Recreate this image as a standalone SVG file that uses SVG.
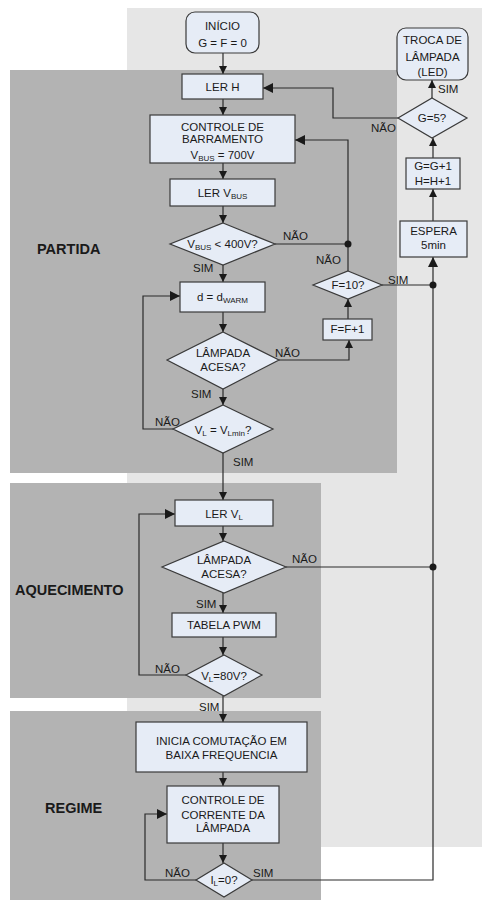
<svg xmlns="http://www.w3.org/2000/svg" width="482" height="900" viewBox="0 0 482 900">
<defs>
<marker id="ah" viewBox="0 0 10 10" refX="10" refY="5" markerWidth="9" markerHeight="8" markerUnits="userSpaceOnUse" orient="auto"><path d="M0,0 L10,5 L0,10 z" fill="#1a1a1a"/></marker>
<marker id="ahb" viewBox="0 0 10 10" refX="10" refY="5" markerWidth="12" markerHeight="10" markerUnits="userSpaceOnUse" orient="auto"><path d="M0,0 L10,5 L0,10 z" fill="#1a1a1a"/></marker>
<style>
.n{fill:#e6ecf6;stroke:#3a3a3a;stroke-width:1.2}
.t{font-family:"Liberation Sans",Arial,sans-serif;font-size:11.5px;fill:#1a1a1a;text-anchor:middle}
.l{font-family:"Liberation Sans",Arial,sans-serif;font-size:11.5px;fill:#1a1a1a}
.h{font-family:"Liberation Sans",Arial,sans-serif;font-size:14.5px;font-weight:bold;fill:#1a1a1a}
.c{fill:none;stroke:#2a2a2a;stroke-width:1.2}
.a{marker-end:url(#ah)}
.b{marker-end:url(#ahb)}
.s{font-size:8px}
</style>
</defs>
<rect width="482" height="900" fill="#ffffff"/>
<rect x="127" y="8" width="355" height="839" fill="#e6e6e6"/>
<g id="panels">
<rect x="10" y="70" width="387" height="403" fill="#b3b3b3"/>
<rect x="10" y="483" width="311" height="215" fill="#b3b3b3"/>
<rect x="10" y="711" width="311" height="189" fill="#b3b3b3"/>
<text class="h" x="37" y="254">PARTIDA</text>
<text class="h" x="15" y="595">AQUECIMENTO</text>
<text class="h" x="45" y="813">REGIME</text>
</g>
<g id="connectors">
<path class="c a" d="M223,53 V74"/>
<path class="c a" d="M223,99 V115"/>
<path class="c a" d="M223,163 V179"/>
<path class="c a" d="M223,206 V223"/>
<path class="c a" d="M223,265 V282"/>
<path class="c a" d="M223,312 V332"/>
<path class="c a" d="M223,389 V405"/>
<path class="c a" d="M223,453 V500"/>
<path class="c a" d="M223,526 V541"/>
<path class="c a" d="M223,593 V613"/>
<path class="c a" d="M223,637 V655"/>
<path class="c a" d="M223,696 V722"/>
<path class="c a" d="M223,772 V786"/>
<path class="c a" d="M223,843 V863"/>
<path class="c b" d="M275,244 H348 V140 H295"/>
<path class="c" d="M348,271 V244"/>
<path class="c a" d="M279,360 H349 V340"/>
<path class="c a" d="M348,319 V299"/>
<path class="c" d="M382,285 H433"/>
<path class="c b" d="M173,429 H143 V296 H180"/>
<path class="c b" d="M186,675 H139 V514 H175"/>
<path class="c b" d="M196,880 H145 V814 H167"/>
<path class="c" d="M286,567 H433"/>
<path class="c b" d="M252,880 H433 V257"/>
<path class="c a" d="M433,221 V189"/>
<path class="c a" d="M433,158 V138"/>
<path class="c a" d="M432,98 V80"/>
<path class="c b" d="M398,118 H333 V88 H263"/>
<circle cx="348" cy="244" r="3.5" fill="#1a1a1a"/>
<circle cx="433" cy="285" r="3.5" fill="#1a1a1a"/>
<circle cx="433" cy="567" r="3.5" fill="#1a1a1a"/>
<text class="l" x="283" y="240">NÃO</text>
<text class="l" x="316" y="264">NÃO</text>
<text class="l" x="388" y="284">SIM</text>
<text class="l" x="371" y="132">NÃO</text>
<text class="l" x="438" y="93">SIM</text>
<text class="l" x="193" y="272">SIM</text>
<text class="l" x="275" y="357">NÃO</text>
<text class="l" x="191" y="398">SIM</text>
<text class="l" x="155" y="426">NÃO</text>
<text class="l" x="233" y="466">SIM</text>
<text class="l" x="292" y="563">NÃO</text>
<text class="l" x="196" y="608">SIM</text>
<text class="l" x="155" y="673">NÃO</text>
<text class="l" x="199" y="711">SIM</text>
<text class="l" x="165" y="877">NÃO</text>
<text class="l" x="253" y="877">SIM</text>
</g>
<g id="inicio"><rect class="n" x="186" y="12" width="73" height="41" rx="9"/><text class="t" x="222.5" y="30">INÍCIO</text><text class="t" x="222.5" y="47">G = F = 0</text></g>
<g id="lerh"><rect class="n" x="182" y="74" width="81" height="25"/><text class="t" x="222.5" y="91">LER H</text></g>
<g id="controle-barramento"><rect class="n" x="150" y="115" width="145" height="48"/><text class="t" x="222.5" y="131">CONTROLE DE</text><text class="t" x="222.5" y="143">BARRAMENTO</text><text class="t" x="222.5" y="159">V<tspan class="s" dy="2">BUS</tspan><tspan dy="-2"> = 700V</tspan></text></g>
<g id="ler-vbus"><rect class="n" x="170" y="179" width="105" height="27"/><text class="t" x="222.5" y="197">LER V<tspan class="s" dy="2">BUS</tspan></text></g>
<g id="vbus-dec"><polygon class="n" points="223,223 275,244 223,265 170,244"/><text class="t" x="222.5" y="248">V<tspan class="s" dy="2">BUS</tspan><tspan dy="-2"> &lt; 400V?</tspan></text></g>
<g id="dwarm"><rect class="n" x="180" y="282" width="85" height="30"/><text class="t" x="222.5" y="301">d = d<tspan class="s" dy="2">WARM</tspan></text></g>
<g id="lampada1"><polygon class="n" points="223,332 279,360 223,389 167,360"/><text class="t" x="223" y="357">LÂMPADA</text><text class="t" x="223" y="371">ACESA?</text></g>
<g id="vlmin"><polygon class="n" points="223,405 273,429 223,453 173,429"/><text class="t" x="223" y="434">V<tspan class="s" dy="2">L</tspan><tspan dy="-2"> = V</tspan><tspan class="s" dy="2">Lmin</tspan><tspan dy="-2">?</tspan></text></g>
<g id="ff1"><rect class="n" x="323" y="319" width="49" height="21"/><text class="t" x="347.5" y="333">F=F+1</text></g>
<g id="f10"><polygon class="n" points="348,271 382,285 348,299 313,285"/><text class="t" x="348" y="289">F=10?</text></g>
<g id="espera"><rect class="n" x="400" y="221" width="67" height="36"/><text class="t" x="433.5" y="235">ESPERA</text><text class="t" x="433.5" y="249">5min</text></g>
<g id="gg1"><rect class="n" x="406" y="158" width="54" height="31"/><text class="t" x="433" y="170">G=G+1</text><text class="t" x="433" y="185">H=H+1</text></g>
<g id="g5"><polygon class="n" points="432,98 467,118 432,138 398,118"/><text class="t" x="432" y="122">G=5?</text></g>
<g id="troca"><rect class="n" x="397" y="28" width="71" height="52" rx="9"/><text class="t" x="432.5" y="44">TROCA DE</text><text class="t" x="432.5" y="61">LÂMPADA</text><text class="t" x="432.5" y="76">(LED)</text></g>
<g id="ler-vl"><rect class="n" x="175" y="500" width="98" height="26"/><text class="t" x="224" y="518">LER V<tspan class="s" dy="2">L</tspan></text></g>
<g id="lampada2"><polygon class="n" points="224,541 286,567 224,593 162,567"/><text class="t" x="224" y="564">LÂMPADA</text><text class="t" x="224" y="578">ACESA?</text></g>
<g id="tabela"><rect class="n" x="172" y="613" width="104" height="24"/><text class="t" x="224" y="629">TABELA PWM</text></g>
<g id="vl80"><polygon class="n" points="224,655 262,675 224,696 186,675"/><text class="t" x="224" y="680">V<tspan class="s" dy="2">L</tspan><tspan dy="-2">=80V?</tspan></text></g>
<g id="inicia"><rect class="n" x="136" y="722" width="171" height="50"/><text class="t" x="221.5" y="745">INICIA COMUTAÇÃO EM</text><text class="t" x="221.5" y="759">BAIXA FREQUENCIA</text></g>
<g id="controle-corrente"><rect class="n" x="167" y="786" width="112" height="57"/><text class="t" x="223" y="804">CONTROLE DE</text><text class="t" x="223" y="819">CORRENTE DA</text><text class="t" x="223" y="832">LÂMPADA</text></g>
<g id="il0"><polygon class="n" points="224,863 252,880 224,897 196,880"/><text class="t" x="224" y="884">I<tspan class="s" dy="2">L</tspan><tspan dy="-2">=0?</tspan></text></g>
</svg>
